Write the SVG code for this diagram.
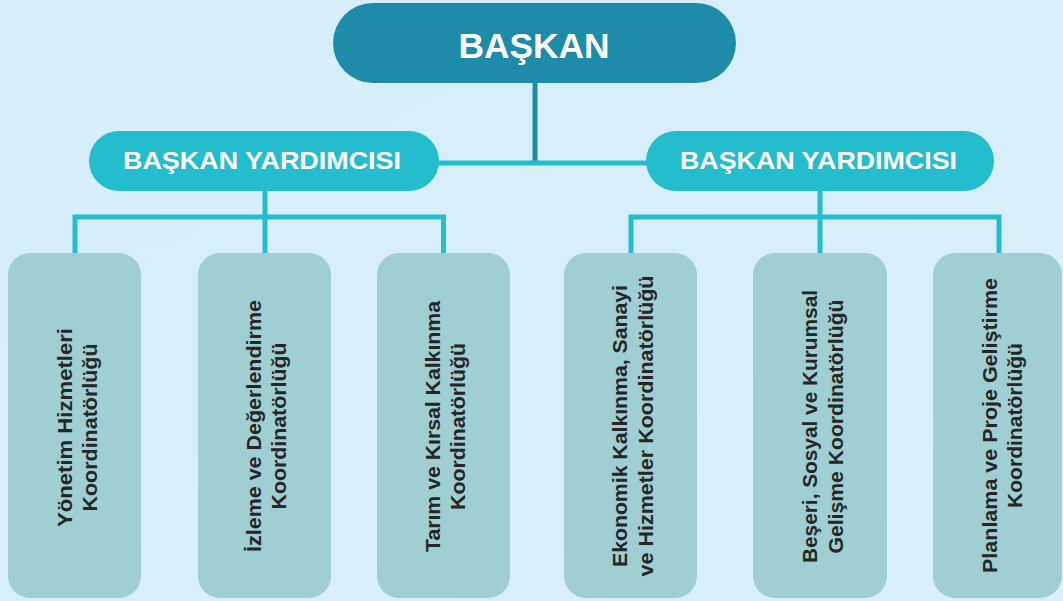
<svg xmlns="http://www.w3.org/2000/svg" width="1063" height="601" viewBox="0 0 1063 601">
  <defs>
    <linearGradient id="bg" x1="0" y1="0" x2="1" y2="1">
      <stop offset="0" stop-color="#D5EEFA"/>
      <stop offset="1" stop-color="#DAF0FB"/>
    </linearGradient>
    <style>
      .top { fill: #1E8BA8; }
      .vp { fill: #23BDCD; }
      .leaf { fill: #9FCFD3; }
      .c-dark { stroke: #1E8BA8; stroke-width: 5; fill: none; }
      .c-light { stroke: #23BDCD; stroke-width: 5; fill: none; }
      .t-title { font-family: "Liberation Sans", Arial, sans-serif; font-weight: bold; font-size: 35px; fill: #FFFFFF; }
      .t-vp { font-family: "Liberation Sans", Arial, sans-serif; font-weight: bold; font-size: 23px; fill: #FFFFFF; }
      .t-leaf { font-family: "Liberation Sans", Arial, sans-serif; font-weight: bold; font-size: 21px; fill: #262626; }
    </style>
  </defs>
  <rect width="1063" height="601" fill="url(#bg)"/>

  <g id="connectors">
    <line class="c-dark" x1="535" y1="82" x2="535" y2="163"/>
    <line class="c-light" x1="437" y1="163" x2="648" y2="163"/>
    <path class="c-light" d="M265 190 V217 M75 255 V217 H443.5 V255 M265 217 V255"/>
    <path class="c-light" d="M820 190 V217 M631 255 V217 H999 V255 M820 217 V255"/>
  </g>

  <g id="baskan">
    <rect class="top" x="333" y="3" width="403" height="80" rx="40" ry="40"/>
    <text class="t-title" x="534" y="58" text-anchor="middle" textLength="151" lengthAdjust="spacingAndGlyphs">BAŞKAN</text>
  </g>

  <g id="vp-left">
    <rect class="vp" x="89" y="131" width="350" height="60" rx="30" ry="30"/>
    <text class="t-vp" x="262" y="169" text-anchor="middle" textLength="278" lengthAdjust="spacingAndGlyphs">BAŞKAN YARDIMCISI</text>
  </g>

  <g id="vp-right">
    <rect class="vp" x="646" y="131" width="348" height="60" rx="30" ry="30"/>
    <text class="t-vp" x="818.5" y="169" text-anchor="middle" textLength="277" lengthAdjust="spacingAndGlyphs">BAŞKAN YARDIMCISI</text>
  </g>

  <g id="leaf-1">
    <rect class="leaf" x="8" y="253" width="133" height="345" rx="22" ry="22"/>
    <g transform="translate(74.5,427.5) rotate(-90)">
      <text class="t-leaf" x="0" y="-3" text-anchor="middle" textLength="199" lengthAdjust="spacingAndGlyphs">Yönetim Hizmetleri</text>
      <text class="t-leaf" x="0" y="22" text-anchor="middle" textLength="168" lengthAdjust="spacingAndGlyphs">Koordinatörlüğü</text>
    </g>
  </g>

  <g id="leaf-2">
    <rect class="leaf" x="198" y="253" width="133" height="345" rx="22" ry="22"/>
    <g transform="translate(264.5,426) rotate(-90)">
      <text class="t-leaf" x="0" y="-4" text-anchor="middle" textLength="252" lengthAdjust="spacingAndGlyphs">İzleme ve Değerlendirme</text>
      <text class="t-leaf" x="0" y="21.5" text-anchor="middle" textLength="167" lengthAdjust="spacingAndGlyphs">Koordinatörlüğü</text>
    </g>
  </g>

  <g id="leaf-3">
    <rect class="leaf" x="377" y="253" width="133" height="345" rx="22" ry="22"/>
    <g transform="translate(443.5,426.5) rotate(-90)">
      <text class="t-leaf" x="0" y="-3.5" text-anchor="middle" textLength="251" lengthAdjust="spacingAndGlyphs">Tarım ve Kırsal Kalkınma</text>
      <text class="t-leaf" x="0" y="21.5" text-anchor="middle" textLength="167" lengthAdjust="spacingAndGlyphs">Koordinatörlüğü</text>
    </g>
  </g>

  <g id="leaf-4">
    <rect class="leaf" x="564" y="253" width="133" height="345" rx="22" ry="22"/>
    <g transform="translate(630.5,426) rotate(-90)">
      <text class="t-leaf" x="0" y="-3.5" text-anchor="middle" textLength="282" lengthAdjust="spacingAndGlyphs">Ekonomik Kalkınma, Sanayi</text>
      <text class="t-leaf" x="0" y="22.5" text-anchor="middle" textLength="301" lengthAdjust="spacingAndGlyphs">ve Hizmetler Koordinatörlüğü</text>
    </g>
  </g>

  <g id="leaf-5">
    <rect class="leaf" x="753" y="253" width="134" height="345" rx="22" ry="22"/>
    <g transform="translate(820,426.5) rotate(-90)">
      <text class="t-leaf" x="0" y="-3" text-anchor="middle" textLength="273" lengthAdjust="spacingAndGlyphs">Beşeri, Sosyal ve Kurumsal</text>
      <text class="t-leaf" x="0" y="23" text-anchor="middle" textLength="254" lengthAdjust="spacingAndGlyphs">Gelişme Koordinatörlüğü</text>
    </g>
  </g>

  <g id="leaf-6">
    <rect class="leaf" x="933" y="253" width="129" height="345" rx="22" ry="22"/>
    <g transform="translate(999.5,425.5) rotate(-90)">
      <text class="t-leaf" x="0" y="-2.5" text-anchor="middle" textLength="295" lengthAdjust="spacingAndGlyphs">Planlama ve Proje Geliştirme</text>
      <text class="t-leaf" x="0" y="22.5" text-anchor="middle" textLength="165" lengthAdjust="spacingAndGlyphs">Koordinatörlüğü</text>
    </g>
  </g>
</svg>
